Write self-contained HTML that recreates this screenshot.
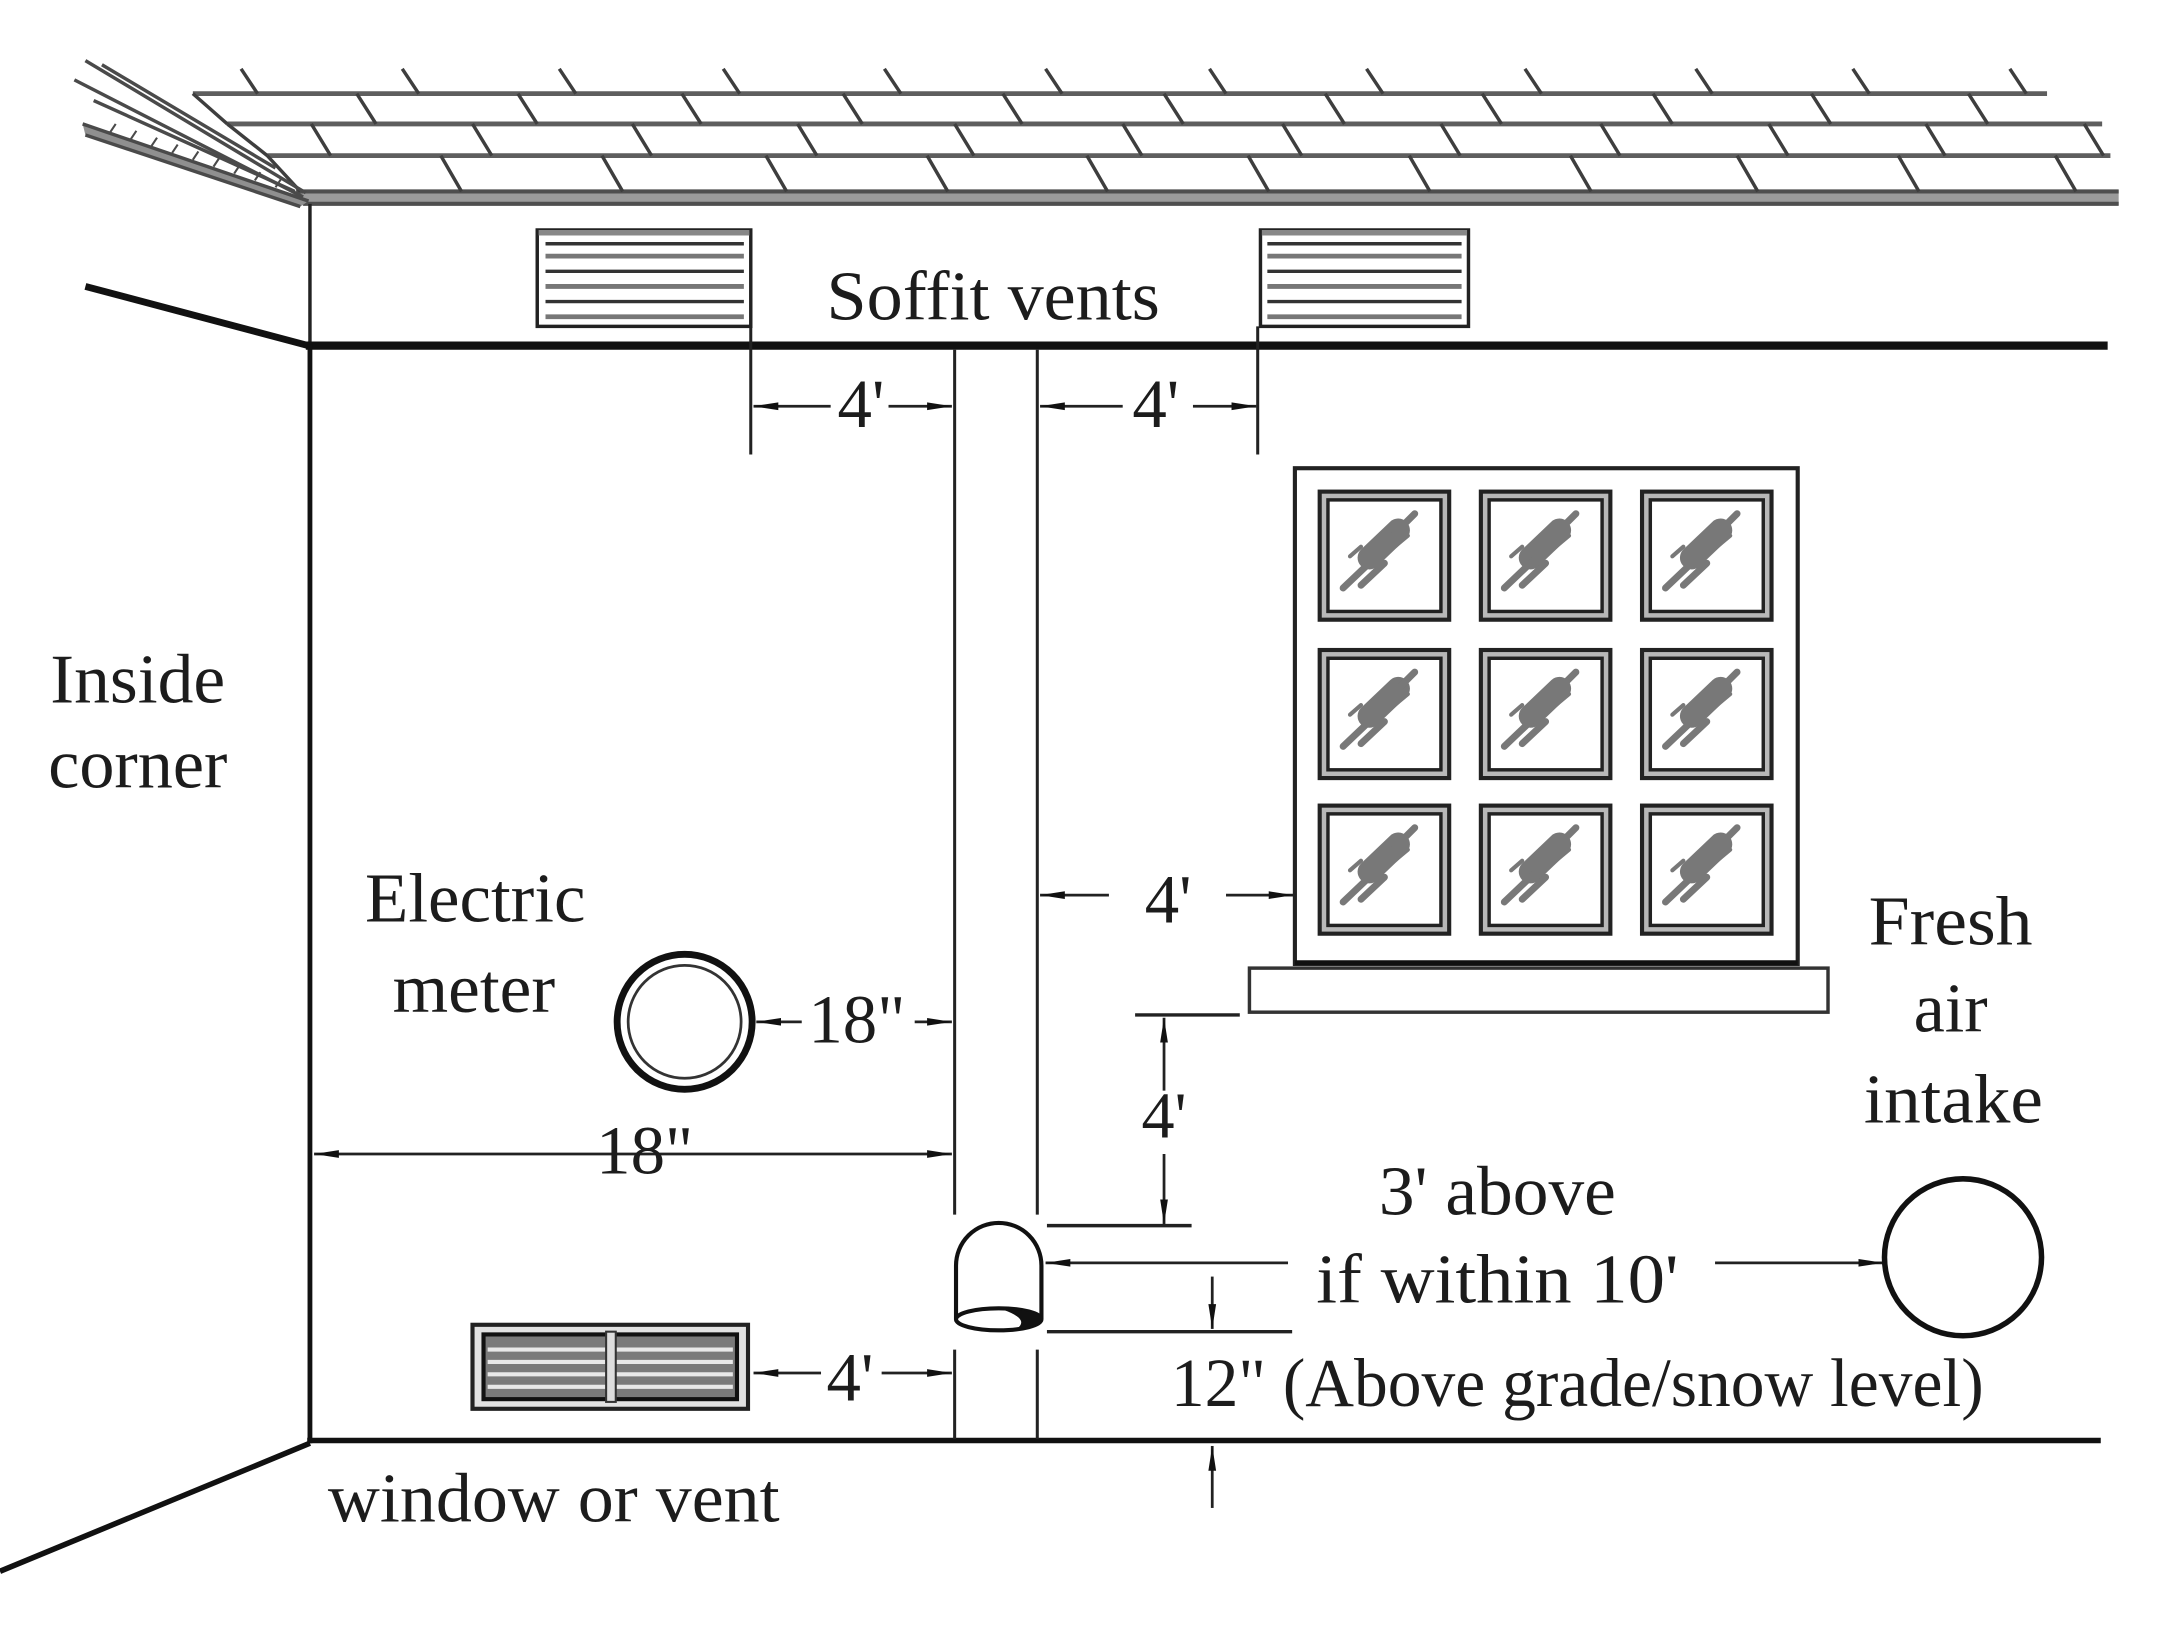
<!DOCTYPE html>
<html>
<head>
<meta charset="utf-8">
<style>
html,body{margin:0;padding:0;background:#fff;}
svg{display:block;}
text{font-family:"Liberation Serif","Times New Roman",serif;fill:#1c1c1c;}
</style>
</head>
<body>
<svg width="2160" height="1625" viewBox="0 0 1568 1180" preserveAspectRatio="none" xmlns="http://www.w3.org/2000/svg">
<defs>
  <marker id="ah" viewBox="0 0 18 8" refX="18" refY="4" markerWidth="18" markerHeight="8" markerUnits="userSpaceOnUse" orient="auto-start-reverse">
    <path d="M0,1.2 L18,4 L0,6.8 z" fill="#111"/>
  </marker>
  <g id="blob" stroke="#787878" stroke-linecap="round" fill="none">
    <line x1="36" y1="48" x2="57" y2="28" stroke-width="17"/>
    <line x1="54" y1="31" x2="69" y2="16" stroke-width="5"/>
    <line x1="38" y1="50" x2="17" y2="70" stroke-width="5"/>
    <line x1="47" y1="52" x2="30" y2="68" stroke-width="5"/>
    <line x1="30" y1="40" x2="22" y2="47" stroke-width="3"/>
    <line x1="52" y1="42" x2="64" y2="32" stroke-width="3"/>
  </g>
  <g id="pane">
    <rect x="0" y="0" width="94" height="93" fill="#b8b8b8" stroke="#222" stroke-width="3"/>
    <rect x="6" y="6" width="82" height="81" fill="#fff" stroke="#222" stroke-width="2.5"/>
    <use href="#blob"/>
  </g>
</defs>

<rect x="0" y="0" width="1568" height="1180" fill="#fff"/>

<!-- ROOF -->
<g stroke="#5e5e5e" fill="none" stroke-width="3.5">
  <line x1="140" y1="68" x2="1486" y2="68"/>
  <line x1="165" y1="90" x2="1526" y2="90"/>
  <line x1="194" y1="113" x2="1532" y2="113"/>
</g>
<rect x="215" y="138" width="1323" height="11" fill="#9a9a9a"/>
<g stroke="#4e4e4e" stroke-width="3" fill="none">
  <line x1="215" y1="139" x2="1538" y2="139"/>
  <line x1="220" y1="148" x2="1538" y2="148"/>
</g>
<g stroke="#3e3e3e" stroke-width="2.5" fill="none">
  <path d="M175,50 l12,18 M292,50 l12,18 M406,50 l12,18 M525,50 l12,18 M642,50 l12,18 M759,50 l12,18 M878,50 l12,18 M992,50 l12,18 M1107,50 l12,18 M1231,50 l12,18 M1345,50 l12,18 M1459,50 l12,18"/>
  <path d="M259,68 l14,22 M376,68 l14,22 M495,68 l14,22 M612,68 l14,22 M728,68 l14,22 M845,68 l14,22 M962,68 l14,22 M1076,68 l14,22 M1200,68 l14,22 M1315,68 l14,22 M1429,68 l14,22 M140,68 l25,22"/>
  <path d="M226,90 l14,23 M343,90 l14,23 M459,90 l14,23 M579,90 l14,23 M693,90 l14,23 M815,90 l14,23 M931,90 l14,23 M1046,90 l14,23 M1162,90 l14,23 M1284,90 l14,23 M1398,90 l14,23 M1513,90 l14,23 M165,90 l29,23"/>
  <path d="M320,113 l15,26 M437,113 l15,26 M556,113 l15,26 M673,113 l15,26 M789,113 l15,26 M906,113 l15,26 M1023,113 l15,26 M1140,113 l15,26 M1261,113 l15,26 M1378,113 l15,26 M1492,113 l15,26 M194,113 l24,26"/>
</g>
<polygon points="60,90 62,98 218,150 224,146" fill="#8f8f8f"/>
<g stroke="#4a4a4a" stroke-width="2.5" fill="none">
  <line x1="62" y1="44" x2="222" y2="140"/>
  <line x1="74" y1="47" x2="200" y2="122"/>
  <line x1="54" y1="58" x2="220" y2="143"/>
  <line x1="68" y1="73" x2="214" y2="139"/>
  <line x1="60" y1="90" x2="224" y2="146"/>
  <line x1="62" y1="98" x2="218" y2="150"/>
  <path d="M80,96 l4,-6 M95,101 l4,-6 M110,106 l4,-6 M125,111 l4,-6 M140,116 l4,-6 M155,121 l4,-6 M170,126 l4,-6 M185,131 l4,-6 M200,136 l4,-6" stroke-width="1.5"/>
</g>

<!-- SOFFIT -->
<line x1="225" y1="148" x2="225" y2="252" stroke="#222" stroke-width="2.5"/>
<line x1="222" y1="251" x2="1530" y2="251" stroke="#111" stroke-width="6"/>
<line x1="62" y1="208" x2="224" y2="251" stroke="#111" stroke-width="5"/>

<g>
  <rect x="390" y="167" width="155" height="70" fill="#fff" stroke="#222" stroke-width="2.5"/>
  <g stroke="#333" stroke-width="2.5">
    <line x1="391" y1="169" x2="544" y2="169" stroke="#888" stroke-width="4"/>
    <line x1="396" y1="177" x2="540" y2="177"/>
    <line x1="396" y1="186" x2="540" y2="186" stroke="#777" stroke-width="3.5"/>
    <line x1="396" y1="197" x2="540" y2="197"/>
    <line x1="396" y1="208" x2="540" y2="208" stroke="#777" stroke-width="3.5"/>
    <line x1="396" y1="219" x2="540" y2="219"/>
    <line x1="396" y1="230" x2="540" y2="230" stroke="#777" stroke-width="3.5"/>
  </g>
  <rect x="915" y="167" width="151" height="70" fill="#fff" stroke="#222" stroke-width="2.5"/>
  <g stroke="#333" stroke-width="2.5">
    <line x1="916" y1="169" x2="1065" y2="169" stroke="#888" stroke-width="4"/>
    <line x1="920" y1="177" x2="1061" y2="177"/>
    <line x1="920" y1="186" x2="1061" y2="186" stroke="#777" stroke-width="3.5"/>
    <line x1="920" y1="197" x2="1061" y2="197"/>
    <line x1="920" y1="208" x2="1061" y2="208" stroke="#777" stroke-width="3.5"/>
    <line x1="920" y1="219" x2="1061" y2="219"/>
    <line x1="920" y1="230" x2="1061" y2="230" stroke="#777" stroke-width="3.5"/>
  </g>
</g>
<text x="721" y="232" font-size="51" text-anchor="middle" textLength="242" lengthAdjust="spacingAndGlyphs">Soffit vents</text>

<!-- WALLS -->
<line x1="225" y1="250" x2="225" y2="1048" stroke="#111" stroke-width="3.5"/>
<line x1="223" y1="1046" x2="1525" y2="1046" stroke="#111" stroke-width="4"/>
<line x1="225" y1="1048" x2="0" y2="1141" stroke="#111" stroke-width="4"/>

<g stroke="#222" stroke-width="2.2">
  <line x1="693" y1="254" x2="693" y2="882"/>
  <line x1="753" y1="254" x2="753" y2="882"/>
  <line x1="693" y1="980" x2="693" y2="1045"/>
  <line x1="753" y1="980" x2="753" y2="1045"/>
  <line x1="545" y1="237" x2="545" y2="330"/>
  <line x1="913" y1="237" x2="913" y2="330"/>
</g>

<g stroke="#222" stroke-width="2" fill="none">
  <line x1="547" y1="295" x2="603" y2="295" marker-start="url(#ah)"/>
  <line x1="645" y1="295" x2="691" y2="295" marker-end="url(#ah)"/>
  <line x1="755" y1="295" x2="815" y2="295" marker-start="url(#ah)"/>
  <line x1="866" y1="295" x2="912" y2="295" marker-end="url(#ah)"/>

  <line x1="755" y1="650" x2="805" y2="650" marker-start="url(#ah)"/>
  <line x1="890" y1="650" x2="939" y2="650" marker-end="url(#ah)"/>

  <line x1="549" y1="742" x2="582" y2="742" marker-start="url(#ah)"/>
  <line x1="664" y1="742" x2="691" y2="742" marker-end="url(#ah)"/>

  <line x1="228" y1="838" x2="691" y2="838" marker-start="url(#ah)" marker-end="url(#ah)"/>

  <line x1="547" y1="997" x2="596" y2="997" marker-start="url(#ah)"/>
  <line x1="640" y1="997" x2="691" y2="997" marker-end="url(#ah)"/>

  <line x1="845" y1="739" x2="845" y2="792" marker-start="url(#ah)"/>
  <line x1="845" y1="838" x2="845" y2="889" marker-end="url(#ah)"/>

  <line x1="824" y1="737" x2="900" y2="737" stroke-width="2.5"/>
  <line x1="760" y1="890" x2="865" y2="890" stroke-width="2.5"/>
  <line x1="760" y1="967" x2="938" y2="967" stroke-width="2.5"/>

  <line x1="759" y1="917" x2="935" y2="917" marker-start="url(#ah)"/>
  <line x1="1245" y1="917" x2="1367" y2="917" marker-end="url(#ah)"/>

  <line x1="880" y1="927" x2="880" y2="965" marker-end="url(#ah)"/>
  <line x1="880" y1="1050" x2="880" y2="1095" marker-start="url(#ah)"/>
</g>

<!-- WINDOW -->
<rect x="940" y="340" width="365" height="360" fill="#fff" stroke="#222" stroke-width="3"/>
<line x1="940" y1="699" x2="1305" y2="699" stroke="#111" stroke-width="3.5"/>
<use href="#pane" x="958" y="357"/>
<use href="#pane" x="1075" y="357"/>
<use href="#pane" x="1192" y="357"/>
<use href="#pane" x="958" y="472"/>
<use href="#pane" x="1075" y="472"/>
<use href="#pane" x="1192" y="472"/>
<use href="#pane" x="958" y="585"/>
<use href="#pane" x="1075" y="585"/>
<use href="#pane" x="1192" y="585"/>
<rect x="907" y="703" width="420" height="32" fill="#fff" stroke="#333" stroke-width="2.5"/>

<!-- ELECTRIC METER -->
<circle cx="497" cy="742" r="49" fill="#fff" stroke="#111" stroke-width="5"/>
<circle cx="497" cy="742" r="41" fill="#fff" stroke="#333" stroke-width="2"/>

<!-- EXHAUST CAP -->
<path d="M694,958 L694,919 A31,31 0 0 1 756,919 L756,958" fill="#fff" stroke="#111" stroke-width="3"/>
<ellipse cx="725" cy="958" rx="31" ry="8" fill="#fff" stroke="#111" stroke-width="3"/>
<path d="M728,951 Q752,951 757,957 Q752,966 738,965 Q748,958 728,951 z" fill="#111"/>

<!-- FRESH AIR INTAKE -->
<circle cx="1425" cy="913" r="57" fill="#fff" stroke="#111" stroke-width="4"/>

<!-- BOTTOM VENT -->
<rect x="343" y="962" width="200" height="61" fill="#e2e2e2" stroke="#222" stroke-width="3"/>
<rect x="351" y="969" width="184" height="47" fill="#7a7a7a" stroke="#111" stroke-width="3"/>
<g stroke="#e8e8e8" stroke-width="3">
  <line x1="354" y1="980" x2="532" y2="980"/>
  <line x1="354" y1="989" x2="532" y2="989"/>
  <line x1="354" y1="998" x2="532" y2="998"/>
  <line x1="354" y1="1007" x2="532" y2="1007"/>
</g>
<rect x="440" y="967" width="7" height="51" fill="#ddd" stroke="#333" stroke-width="1.5"/>

<!-- TEXT -->
<text x="625" y="310" font-size="50" text-anchor="middle">4'</text>
<text x="839" y="310" font-size="50" text-anchor="middle">4'</text>

<text x="100" y="510" font-size="51" text-anchor="middle" textLength="127" lengthAdjust="spacingAndGlyphs">Inside</text>
<text x="100" y="572" font-size="51" text-anchor="middle" textLength="130" lengthAdjust="spacingAndGlyphs">corner</text>

<text x="345" y="669" font-size="51" text-anchor="middle" textLength="160" lengthAdjust="spacingAndGlyphs">Electric</text>
<text x="344" y="735" font-size="51" text-anchor="middle" textLength="118" lengthAdjust="spacingAndGlyphs">meter</text>

<text x="622" y="757" font-size="50" text-anchor="middle">18"</text>
<text x="468" y="852" font-size="50" text-anchor="middle">18"</text>

<text x="848" y="670" font-size="50" text-anchor="middle">4'</text>
<text x="845" y="826" font-size="48" text-anchor="middle">4'</text>

<text x="1087" y="882" font-size="51" text-anchor="middle" textLength="172" lengthAdjust="spacingAndGlyphs">3' above</text>
<text x="1087" y="946" font-size="51" text-anchor="middle" textLength="263" lengthAdjust="spacingAndGlyphs">if within 10'</text>

<text x="1416" y="686" font-size="51" text-anchor="middle" textLength="119" lengthAdjust="spacingAndGlyphs">Fresh</text>
<text x="1416" y="749" font-size="51" text-anchor="middle">air</text>
<text x="1418" y="815" font-size="51" text-anchor="middle" textLength="130" lengthAdjust="spacingAndGlyphs">intake</text>

<text x="850" y="1021" font-size="50" textLength="590" lengthAdjust="spacingAndGlyphs">12" (Above grade/snow level)</text>

<text x="617" y="1017" font-size="50" text-anchor="middle">4'</text>

<text x="238" y="1105" font-size="51" textLength="328" lengthAdjust="spacingAndGlyphs">window or vent</text>
</svg>
</body>
</html>
